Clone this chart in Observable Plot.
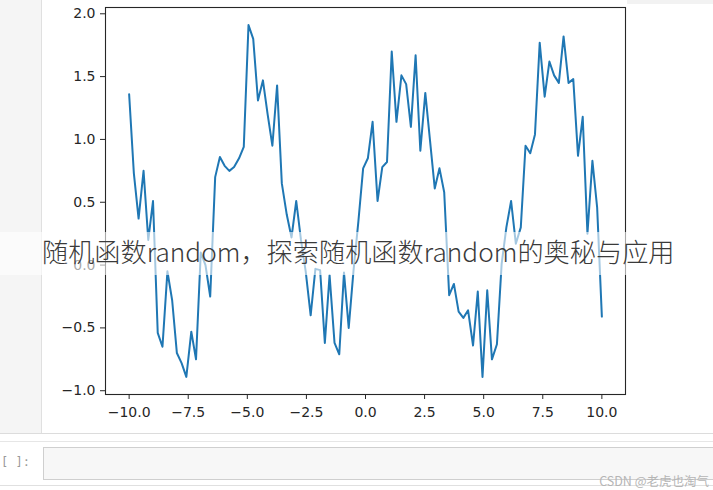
<!DOCTYPE html>
<html>
<head>
<meta charset="utf-8">
<script src="https://cdn.jsdelivr.net/npm/d3@7"></script>
<script src="https://cdn.jsdelivr.net/npm/@observablehq/plot@0.6"></script>
<style>
  html, body { margin: 0; padding: 0; background: #fff; }
  #page { position: relative; width: 713px; height: 490px; overflow: hidden; background: #fff; }
  #leftpanel { position: absolute; left: 0; top: 0; width: 41px; height: 433px; background: #f5f5f5; border-right: 1px solid #e0e0e0; border-bottom: 1px solid #e0e0e0; }
  #topstrip { position: absolute; left: 627px; top: 0; width: 86px; height: 4px; background: #f2f2f2; }
  #chart { position: absolute; left: 0; top: 0; }
  #band { position: absolute; left: 0; top: 232px; width: 713px; height: 43px; background: rgba(255,255,255,0.6); }
  #overlay { position: absolute; left: 42px; top: 232px; font-family: "Noto Sans CJK SC", "Noto Sans", sans-serif; font-weight: 300; font-size: 26.2px; color: #3a3a3a; white-space: nowrap; line-height: 38px; }
  #line1 { position: absolute; left: 0; top: 433px; width: 713px; height: 1px; background: #dcdcdc; }
  #line2 { position: absolute; left: 0; top: 441px; width: 713px; height: 1px; background: #e6e6e6; }
  #inputbox { position: absolute; left: 43px; top: 447px; width: 680px; height: 31px; background: #f7f7f7; border: 1px solid #cfcfcf; }
  #prompt { position: absolute; left: 1px; top: 455px; font-family: "DejaVu Sans Mono", monospace; font-size: 12px; color: #9a9a9a; }
  #line3 { position: absolute; left: 0; top: 485px; width: 713px; height: 1px; background: #e0e0e0; }
  #wm { position: absolute; right: 4px; top: 474px; font-family: "Noto Sans CJK SC", sans-serif; font-size: 12.5px; line-height: 14px; color: #b5b5b5; white-space: nowrap; }
</style>
</head>
<body>
<div id="page">
  <div id="leftpanel"></div>
  <div id="topstrip"></div>
  <div id="chart"></div>
  <div id="band"></div>
  <div id="overlay">随机函数random，探索随机函数random的奥秘与应用</div>
  <div id="line1"></div>
  <div id="line2"></div>
  <div id="inputbox"></div>
  <div id="prompt">[ ]:</div>
  <div id="line3"></div>
  <div id="wm">CSDN @老虎也淘气</div>
</div>
<script>
// x positions (np.linspace(-10, 10, 100), read and rounded)
const xValues = [
  -10.00, -9.80, -9.60, -9.39, -9.19, -8.99, -8.79, -8.59, -8.38, -8.18,
  -7.98, -7.78, -7.58, -7.37, -7.17, -6.97, -6.77, -6.57, -6.36, -6.16,
  -5.96, -5.76, -5.56, -5.35, -5.15, -4.95, -4.75, -4.55, -4.34, -4.14,
  -3.94, -3.74, -3.54, -3.33, -3.13, -2.93, -2.73, -2.53, -2.32, -2.12,
  -1.92, -1.72, -1.52, -1.31, -1.11, -0.91, -0.71, -0.51, -0.30, -0.10,
  0.10, 0.30, 0.51, 0.71, 0.91, 1.11, 1.31, 1.52, 1.72, 1.92,
  2.12, 2.32, 2.53, 2.73, 2.93, 3.13, 3.33, 3.54, 3.74, 3.94,
  4.14, 4.34, 4.55, 4.75, 4.95, 5.15, 5.35, 5.56, 5.76, 5.96,
  6.16, 6.36, 6.57, 6.77, 6.97, 7.17, 7.37, 7.58, 7.78, 7.98,
  8.18, 8.38, 8.59, 8.79, 8.99, 9.19, 9.39, 9.60, 9.80, 10.00
];
// y values (sin(x) + noise)
const yValues = [
  1.36, 0.73, 0.37, 0.75, 0.20, 0.51, -0.54, -0.65, -0.05, -0.28,
  -0.70, -0.78, -0.89, -0.53, -0.75, 0.10, 0.00, -0.25, 0.70, 0.86,
  0.79, 0.75, 0.78, 0.85, 0.94, 1.91, 1.80, 1.31, 1.47, 1.20,
  0.95, 1.43, 0.65, 0.40, 0.22, 0.51, 0.20, -0.05, -0.40, -0.03,
  -0.04, -0.62, -0.08, -0.62, -0.71, -0.06, -0.50, -0.05, 0.35, 0.77,
  0.85, 1.14, 0.51, 0.78, 0.82, 1.70, 1.14, 1.51, 1.44, 1.10,
  1.67, 0.91, 1.37, 0.99, 0.61, 0.77, 0.58, -0.24, -0.15, -0.37,
  -0.42, -0.36, -0.64, -0.21, -0.89, -0.20, -0.75, -0.63, 0.01, 0.30,
  0.51, 0.17, 0.30, 0.95, 0.89, 1.04, 1.77, 1.34, 1.62, 1.51,
  1.45, 1.82, 1.45, 1.48, 0.87, 1.18, 0.25, 0.83, 0.46, -0.41
];
const xTicks = [-10, -7.5, -5, -2.5, 0, 2.5, 5, 7.5, 10];
const yTicks = [-1.0, -0.5, 0.0, 0.5, 1.0, 1.5, 2.0];

const data = xValues.map((x, i) => ({x, y: yValues[i]}));
const fmt = d3.format(".1f");

const chart = Plot.plot({
  width: 713,
  height: 430,
  marginLeft: 105,
  marginRight: 88,
  marginTop: 7,
  marginBottom: 36,
  style: {fontFamily: "DejaVu Sans", fontSize: "14px", color: "#262626", background: "transparent", overflow: "visible"},
  x: {domain: [-11, 11], label: null},
  y: {domain: [-1.03, 2.05], label: null},
  marks: [
    Plot.line(data, {x: "x", y: "y", stroke: "#1f77b4", strokeWidth: 2, strokeLinejoin: "round"}),
    Plot.frame({stroke: "#262626", strokeWidth: 1.1}),
    Plot.axisX({ticks: xTicks, tickFormat: fmt, tickSize: 5, tickPadding: 8, stroke: "#262626", fill: "#262626", label: null}),
    Plot.axisY({ticks: yTicks, tickFormat: fmt, tickSize: 5, tickPadding: 5, stroke: "#262626", fill: "#262626", label: null})
  ]
});
document.getElementById("chart").appendChild(chart);
</script>
</body>
</html>
